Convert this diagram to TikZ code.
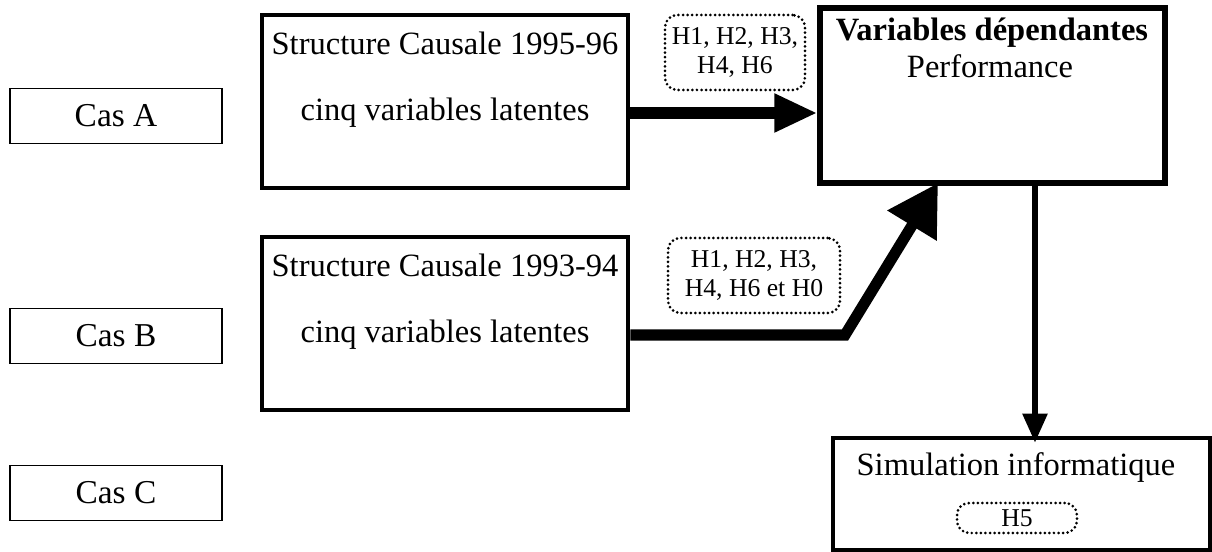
\documentclass[tikz,border=0pt]{standalone}
\usepackage{fontspec}
\setmainfont{Liberation Serif}
\usetikzlibrary{arrows.meta,positioning}
\tikzset{casbox/.style={
            draw,
            line width=1.1pt,
            minimum width=4.24cm,
            minimum height=1.1cm,
            font=\fontsize{19}{21}\selectfont
        },
        causebox/.style={
            draw,
            line width=2.7pt,
            inner sep=0pt
        },
        hypbox/.style={
            draw,
            rounded corners=7pt,
            line width=1.7pt,
            dash pattern=on 0pt off 2.6pt,
            line cap=round,
            align=center,
            inner sep=0pt,
            font=\fontsize{14.6}{17}\selectfont
        },
        txt/.style={
            font=\fontsize{18.5}{21}\selectfont,
            inner sep=0pt
        },
        bigarrow/.style={
            line width=6.3pt,
            -{Triangle[length=0.86cm,width=0.72cm]}
        },
        droparrow/.style={
            line width=3.2pt,
            -{Triangle[length=0.58cm,width=0.48cm]}
        }
    }
\begin{document}
\begin{tikzpicture}
\useasboundingbox (0,0) rectangle (24.24,-11.04);
% cas
\node[casbox] (casA) at (2.32,-2.32) {Cas A};
\node[casbox] (casB) at (2.32,-6.72) {Cas B};
\node[casbox] (casC) at (2.32,-9.86) {Cas C};
% structures causales
\node[causebox,minimum width=7.32cm,minimum height=3.46cm] (causA) at (8.9,-2.03) {};
\node[txt] (causAtitle) at (8.9,-0.86) {Structure Causale 1995-96};
\node[txt] (causAtxt) at (8.9,-2.26) {cinq variables latentes};
\node[causebox,minimum width=7.32cm,minimum height=3.46cm] (causB) at (8.9,-6.47) {};
\node[txt] (causBtitle) at (8.9,-5.3) {Structure Causale 1993-94};
\node[txt] (causBtxt) at (8.9,-6.7) {cinq variables latentes};
% variables et simulation
\node[causebox,line width=3pt,minimum width=6.9cm,minimum height=3.5cm] (depend) at (19.85,-1.91) {};
\node[txt,font=\fontsize{18.5}{21}\selectfont\bfseries] (dependtitle) at (19.84,-0.66) {Variables dépendantes};
\node[txt] (perf) at (19.8,-1.32) {Performance};
\node[causebox,minimum width=7.54cm,minimum height=2.24cm] (simul) at (20.43,-9.88) {};
\node[txt] (simultxt) at (20.32,-9.36) {Simulation informatique};
% hypotheses
\node[hypbox,minimum width=2.8cm,minimum height=1.5cm] (hypA) at (14.7,-1.05) {H1, H2, H3,\\H4, H6};
\node[hypbox,minimum width=3.44cm,minimum height=1.5cm] (hypB) at (15.08,-5.51) {H1, H2, H3,\\H4, H6 et H0};
\node[hypbox,minimum width=2.4cm,minimum height=0.6cm] (hypC) at (20.34,-10.36) {H5};
% fleches
\coordinate (bend) at (16.9,-6.7);
\coordinate (tipB) at (18.76,-3.66);
\coordinate (drop) at (20.7,-5);
\draw[bigarrow] (causAtxt -| causA.east) -- (causAtxt -| depend.west);
\draw[bigarrow,-{Triangle[length=1cm,width=1.1cm]}] (causBtxt -| causB.east) -- (bend) -- (tipB);
\draw[droparrow] (drop |- depend.south) -- ([yshift=-4pt]simul.north -| drop);
\end{tikzpicture}
\end{document}
